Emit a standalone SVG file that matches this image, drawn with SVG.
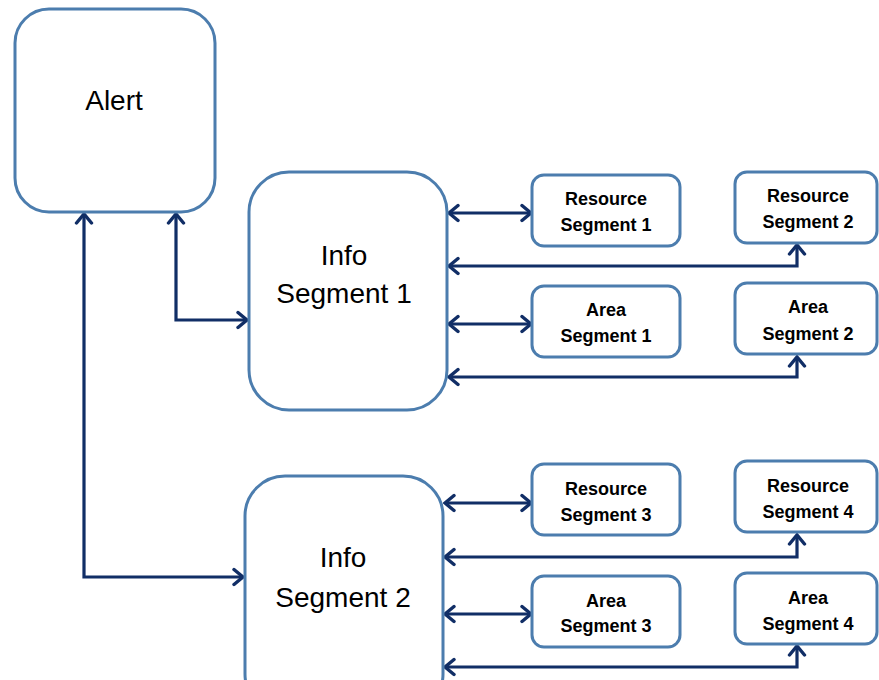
<svg xmlns="http://www.w3.org/2000/svg" width="879" height="680" viewBox="0 0 879 680">
<defs>
<style>
.box{fill:#ffffff;stroke:#4C7DAE;stroke-width:3}
.big{font-family:"Liberation Sans",Arial,sans-serif;font-size:28px;fill:#000;text-anchor:middle}
.sm{font-family:"Liberation Sans",Arial,sans-serif;font-size:18px;font-weight:bold;fill:#000;text-anchor:middle}
.con{fill:none;stroke:#112E66;stroke-width:3.2;stroke-linejoin:miter}
</style>
<marker id="ah" markerUnits="userSpaceOnUse" viewBox="-12 -10 14 20" refX="0" refY="0" markerWidth="14" markerHeight="20" orient="auto-start-reverse">
<path d="M -9 -7.5 L 0 0 L -9 7.5" fill="none" stroke="#112E66" stroke-width="3.4" stroke-linecap="round" stroke-linejoin="miter"/>
</marker>
</defs>
<rect width="879" height="680" fill="#ffffff"/>
<g id="connectors">
<path class="con" d="M 84 214 L 84 577 L 243 577" marker-start="url(#ah)" marker-end="url(#ah)"/>
<path class="con" d="M 176 214 L 176 320 L 247 320" marker-start="url(#ah)" marker-end="url(#ah)"/>
<path class="con" d="M 449 213 L 531 213" marker-start="url(#ah)" marker-end="url(#ah)"/>
<path class="con" d="M 449 266 L 797 266 L 797 245" marker-start="url(#ah)" marker-end="url(#ah)"/>
<path class="con" d="M 449 324 L 531 324" marker-start="url(#ah)" marker-end="url(#ah)"/>
<path class="con" d="M 449 377 L 797 377 L 797 357" marker-start="url(#ah)" marker-end="url(#ah)"/>
<path class="con" d="M 445 503 L 531 503" marker-start="url(#ah)" marker-end="url(#ah)"/>
<path class="con" d="M 445 557 L 797 557 L 797 535" marker-start="url(#ah)" marker-end="url(#ah)"/>
<path class="con" d="M 445 614 L 531 614" marker-start="url(#ah)" marker-end="url(#ah)"/>
<path class="con" d="M 445 667 L 797 667 L 797 646" marker-start="url(#ah)" marker-end="url(#ah)"/>
</g>
<g id="alert">
<rect class="box" x="15" y="9" width="200" height="203" rx="34" ry="34"/>
<text class="big" x="114" y="110">Alert</text>
</g>
<g id="info1">
<rect class="box" x="249" y="172" width="198" height="238" rx="40" ry="40"/>
<text class="big" x="344" y="265">Info</text>
<text class="big" x="344" y="303">Segment 1</text>
</g>
<g id="info2">
<rect class="box" x="245" y="476" width="198" height="238" rx="40" ry="40"/>
<text class="big" x="343" y="567">Info</text>
<text class="big" x="343" y="607">Segment 2</text>
</g>
<g id="resource1">
<rect class="box" x="532" y="175" width="148" height="71" rx="12" ry="12"/>
<text class="sm" x="606" y="205">Resource</text>
<text class="sm" x="606" y="231">Segment 1</text>
</g>
<g id="resource2">
<rect class="box" x="735" y="172" width="142" height="71" rx="12" ry="12"/>
<text class="sm" x="808" y="202">Resource</text>
<text class="sm" x="808" y="228">Segment 2</text>
</g>
<g id="area1">
<rect class="box" x="532" y="286" width="148" height="71" rx="12" ry="12"/>
<text class="sm" x="606" y="316">Area</text>
<text class="sm" x="606" y="342">Segment 1</text>
</g>
<g id="area2">
<rect class="box" x="735" y="283" width="142" height="71" rx="12" ry="12"/>
<text class="sm" x="808" y="313">Area</text>
<text class="sm" x="808" y="340">Segment 2</text>
</g>
<g id="resource3">
<rect class="box" x="532" y="464" width="148" height="71" rx="12" ry="12"/>
<text class="sm" x="606" y="495">Resource</text>
<text class="sm" x="606" y="521">Segment 3</text>
</g>
<g id="resource4">
<rect class="box" x="735" y="461" width="142" height="71" rx="12" ry="12"/>
<text class="sm" x="808" y="492">Resource</text>
<text class="sm" x="808" y="518">Segment 4</text>
</g>
<g id="area3">
<rect class="box" x="532" y="576" width="148" height="71" rx="12" ry="12"/>
<text class="sm" x="606" y="607">Area</text>
<text class="sm" x="606" y="632">Segment 3</text>
</g>
<g id="area4">
<rect class="box" x="735" y="573" width="142" height="71" rx="12" ry="12"/>
<text class="sm" x="808" y="604">Area</text>
<text class="sm" x="808" y="630">Segment 4</text>
</g>
</svg>
